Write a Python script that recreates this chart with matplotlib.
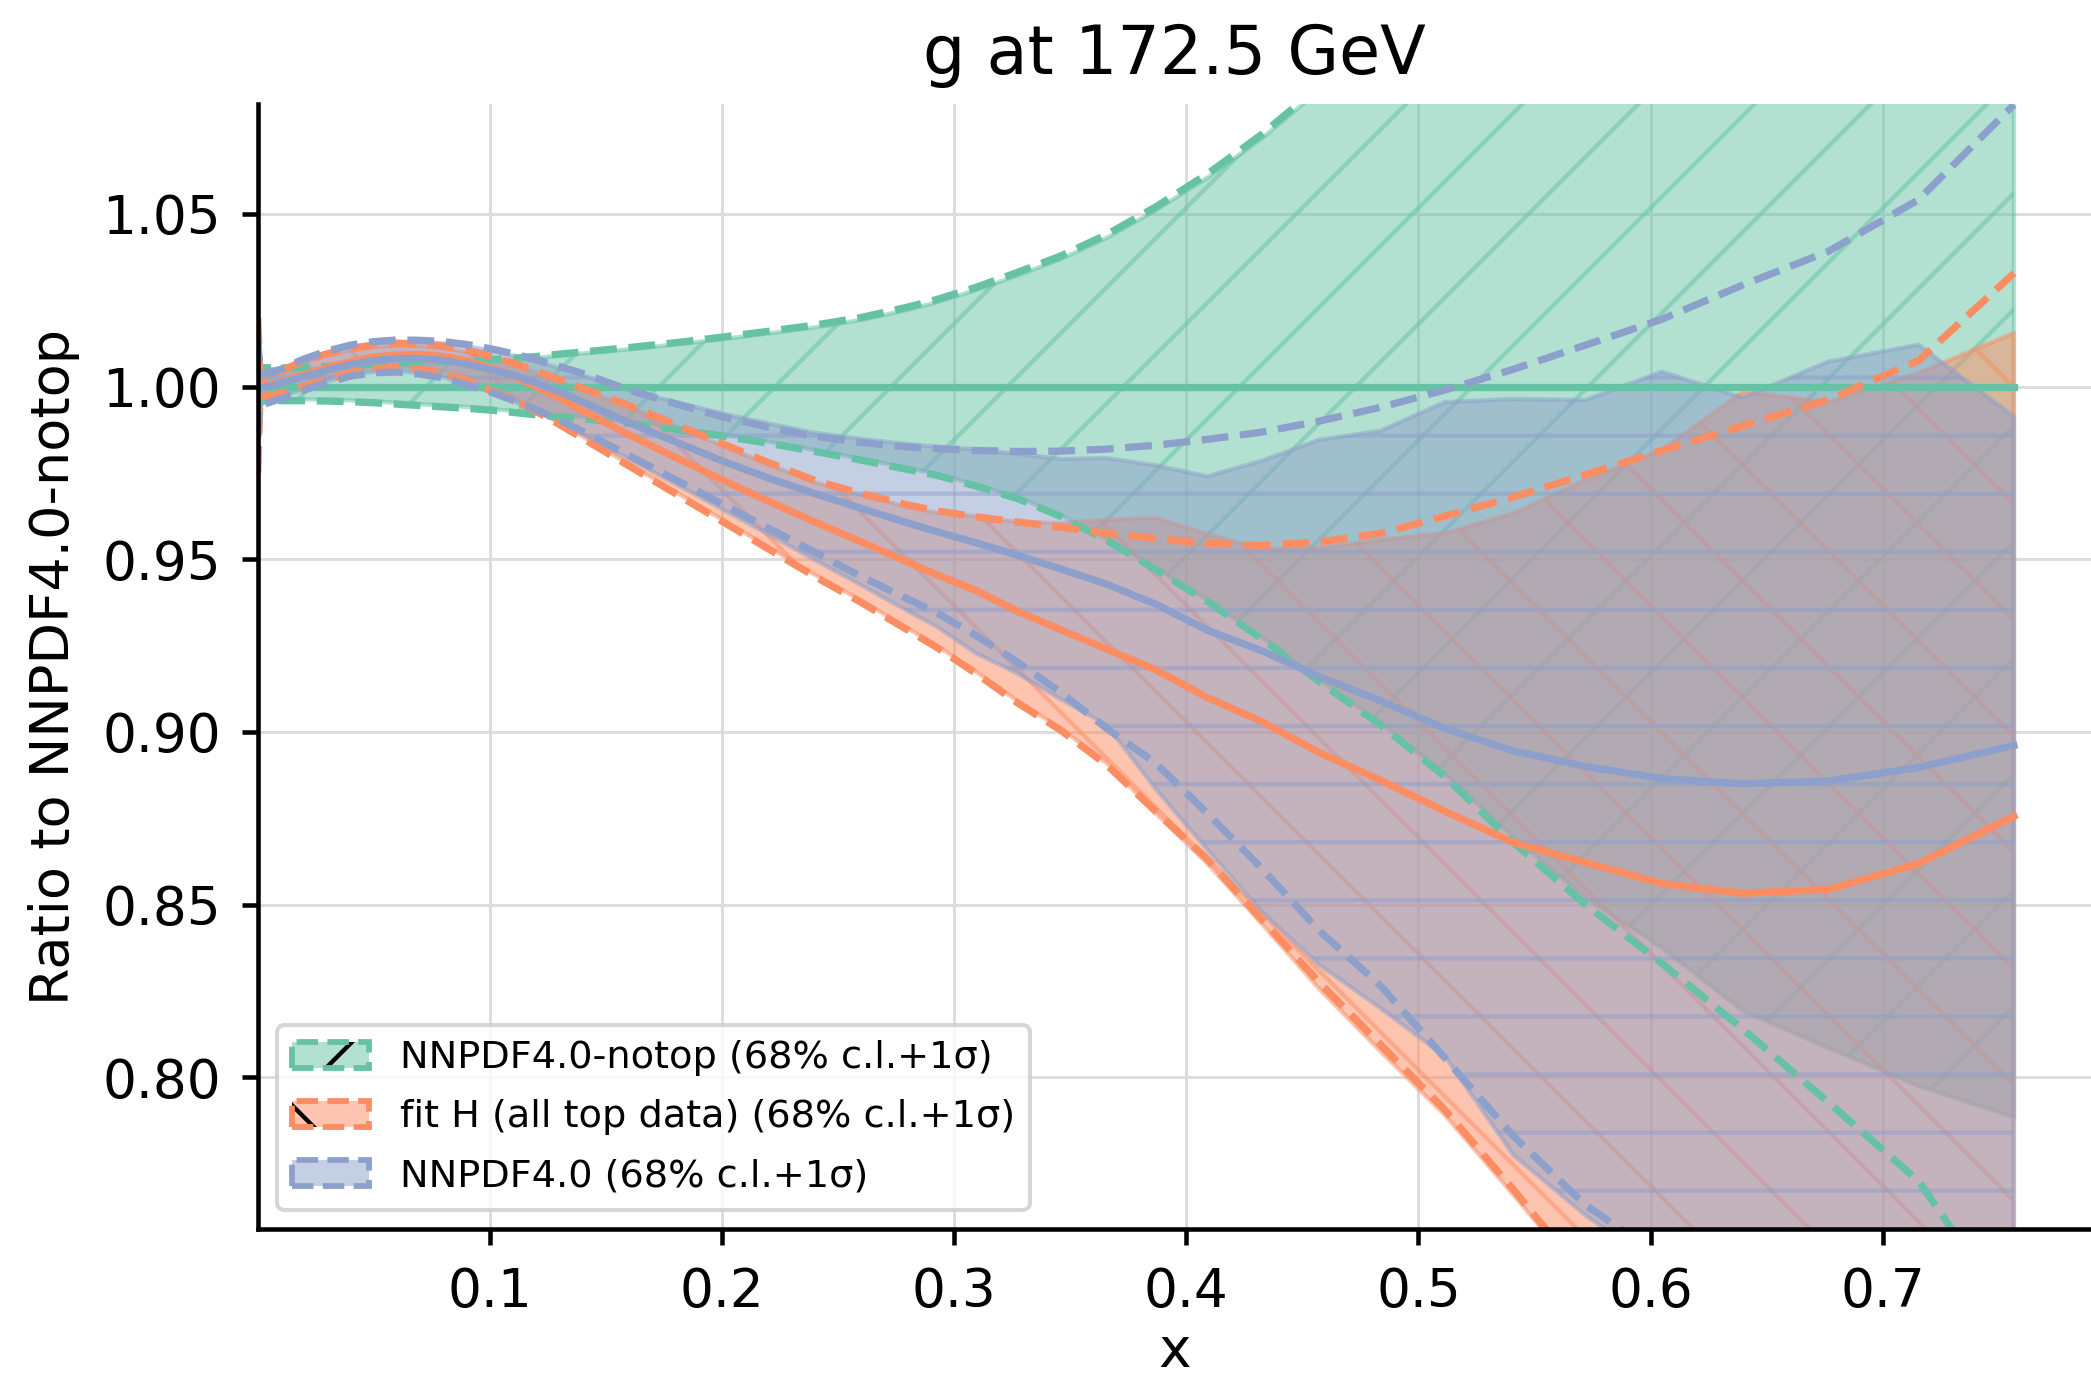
import numpy as np
import matplotlib
matplotlib.use("Agg")
import matplotlib.pyplot as plt
from matplotlib.patches import Patch
from matplotlib.legend_handler import HandlerTuple

DPI = 697
plt.rcParams['font.family'] = ['DejaVu Sans']
plt.rcParams['hatch.linewidth'] = 0.45
plt.rcParams['hatch.color'] = 'black'

# ---------------- data (ratio to NNPDF4.0-notop) ----------------
x = [1e-5, 0.001, 0.01, 0.02, 0.03, 0.04, 0.05, 0.06, 0.07, 0.08, 0.09, 0.10,
     0.11, 0.12, 0.13, 0.14, 0.16, 0.18, 0.20, 0.22, 0.24, 0.26, 0.28, 0.2925,
     0.3093, 0.3271, 0.3459, 0.3657, 0.3868, 0.4090, 0.4325, 0.4574, 0.4837,
     0.5115, 0.5409, 0.5720, 0.6049, 0.6397, 0.6765, 0.7154, 0.7565]

# NNPDF4.0-notop (reference)
notop_cv = [1.0, 1.0, 1.0, 1.0, 1.0, 1.0, 1.0, 1.0, 1.0, 1.0, 1.0, 1.0, 1.0, 1.0,
            1.0, 1.0, 1.0, 1.0, 1.0, 1.0, 1.0, 1.0, 1.0, 1.0, 1.0, 1.0, 1.0, 1.0,
            1.0, 1.0, 1.0, 1.0, 1.0, 1.0, 1.0, 1.0, 1.0, 1.0, 1.0, 1.0, 1.0]
notop_1s_up = [1.010, 1.0055, 1.0054, 1.0056, 1.0058, 1.0062, 1.0065, 1.0068, 1.0070,
               1.0073, 1.0076, 1.0078, 1.0082, 1.0087, 1.0094, 1.0100, 1.0113, 1.0127,
               1.0143, 1.0160, 1.0178, 1.0200, 1.0230, 1.0252, 1.0287, 1.0330, 1.0378,
               1.0440, 1.0520, 1.0615, 1.0730, 1.0870, 1.1030, 1.1200, 1.1400, 1.1600,
               1.1800, 1.2100, 1.2400, 1.2700, 1.3100]
notop_68_up = [1.008, 1.0051, 1.0050, 1.0052, 1.0054, 1.0058, 1.0061, 1.0064, 1.0066,
               1.0069, 1.0072, 1.0074, 1.0078, 1.0083, 1.0090, 1.0096, 1.0108, 1.0122,
               1.0137, 1.0154, 1.0171, 1.0193, 1.0222, 1.0244, 1.0279, 1.0321, 1.0369,
               1.0430, 1.0510, 1.0604, 1.0718, 1.0858, 1.1015, 1.1185, 1.1380, 1.1580,
               1.1780, 1.2080, 1.2380, 1.2680, 1.3080]
notop_1s_dn = [0.990, 0.9958, 0.9959, 0.9959, 0.9958, 0.9956, 0.9953, 0.9949, 0.9945,
               0.9941, 0.9937, 0.9932, 0.9925, 0.9918, 0.9912, 0.9907, 0.9893, 0.9876,
               0.9857, 0.9836, 0.9812, 0.9787, 0.9760, 0.9743, 0.9712, 0.9676, 0.9624,
               0.9555, 0.9470, 0.9378, 0.9270, 0.9145, 0.9020, 0.8870, 0.8680, 0.8500,
               0.8330, 0.8140, 0.7928, 0.7700, 0.7300]
notop_68_dn = [0.992, 0.9962, 0.9963, 0.9963, 0.9962, 0.9960, 0.9957, 0.9953, 0.9949,
               0.9945, 0.9941, 0.9936, 0.9929, 0.9922, 0.9916, 0.9911, 0.9897, 0.9880,
               0.9861, 0.9840, 0.9816, 0.9791, 0.9764, 0.9747, 0.9716, 0.9680, 0.9628,
               0.9559, 0.9474, 0.9382, 0.9274, 0.9150, 0.9026, 0.8878, 0.8695, 0.8520,
               0.8375, 0.8193, 0.8085, 0.7975, 0.7885]

# fit H (all top data)
fitH_cv = [0.999, 1.0000, 1.0012, 1.0035, 1.0055, 1.0072, 1.0085, 1.0092, 1.0093,
           1.0087, 1.0074, 1.0055, 1.0030, 1.0000, 0.9966, 0.9930, 0.9860, 0.9795,
           0.9730, 0.9668, 0.9608, 0.9550, 0.9492, 0.9455, 0.9410, 0.9350, 0.9296,
           0.9240, 0.9180, 0.9100, 0.9030, 0.8940, 0.8860, 0.8770, 0.8680, 0.8622,
           0.8561, 0.8533, 0.8544, 0.8619, 0.8756]
fitH_1s_up = [1.020, 1.0030, 1.0045, 1.0075, 1.0095, 1.0110, 1.0120, 1.0125, 1.0123,
              1.0117, 1.0105, 1.0088, 1.0068, 1.0045, 1.0020, 0.9995, 0.9945, 0.9890,
              0.9835, 0.9780, 0.9728, 0.9690, 0.9657, 0.9640, 0.9623, 0.9608, 0.9593,
              0.9575, 0.9560, 0.9546, 0.9540, 0.9550, 0.9575, 0.9625, 0.9680, 0.9745,
              0.9815, 0.9886, 0.9962, 1.0075, 1.0328]
fitH_68_up = [1.018, 1.0025, 1.0040, 1.0070, 1.0090, 1.0105, 1.0115, 1.0120, 1.0118,
              1.0112, 1.0100, 1.0083, 1.0063, 1.0040, 1.0015, 0.9990, 0.9940, 0.9885,
              0.9830, 0.9775, 0.9723, 0.9685, 0.9652, 0.9635, 0.9625, 0.9608, 0.9605,
              0.9614, 0.9620, 0.9573, 0.9530, 0.9532, 0.9556, 0.9576, 0.9633, 0.9730,
              0.9817, 0.9985, 0.9955, 1.0039, 1.0155]
fitH_1s_dn = [0.975, 0.9970, 0.9980, 1.0000, 1.0020, 1.0040, 1.0052, 1.0055, 1.0050,
              1.0038, 1.0018, 0.9990, 0.9962, 0.9928, 0.9890, 0.9850, 0.9770, 0.9690,
              0.9610, 0.9530, 0.9450, 0.9375, 0.9295, 0.9245, 0.9170, 0.9085, 0.9005,
              0.8905, 0.8770, 0.8632, 0.8457, 0.8274, 0.8095, 0.7905, 0.7675, 0.7420,
              0.7150, 0.6900, 0.6700, 0.6550, 0.6600]
fitH_68_dn = [0.978, 0.9975, 0.9985, 1.0005, 1.0025, 1.0045, 1.0057, 1.0060, 1.0055,
              1.0043, 1.0023, 0.9995, 0.9967, 0.9933, 0.9895, 0.9855, 0.9775, 0.9695,
              0.9615, 0.9535, 0.9455, 0.9380, 0.9300, 0.9250, 0.9175, 0.9090, 0.9010,
              0.8910, 0.8765, 0.8620, 0.8445, 0.8255, 0.8075, 0.7890, 0.7660, 0.7410,
              0.7150, 0.6900, 0.6700, 0.6550, 0.6600]

# NNPDF4.0
nnpdf_cv = [0.999, 0.9995, 1.0010, 1.0029, 1.0047, 1.0064, 1.0075, 1.0081, 1.0081,
            1.0076, 1.0065, 1.0050, 1.0033, 1.0010, 0.9985, 0.9955, 0.9895, 0.9840,
            0.9785, 0.9735, 0.9690, 0.9647, 0.9605, 0.9580, 0.9548, 0.9512, 0.9472,
            0.9428, 0.9370, 0.9295, 0.9235, 0.9160, 0.9090, 0.9010, 0.8945, 0.8900,
            0.8865, 0.8850, 0.8858, 0.8897, 0.8961]
nnpdf_1s_up = [1.015, 1.0035, 1.0050, 1.0080, 1.0103, 1.0120, 1.0130, 1.0135, 1.0134,
               1.0130, 1.0122, 1.0110, 1.0095, 1.0078, 1.0058, 1.0038, 0.9990, 0.9950,
               0.9913, 0.9882, 0.9856, 0.9838, 0.9825, 0.9820, 0.9815, 0.9812, 0.9813,
               0.9819, 0.9830, 0.9847, 0.9868, 0.9900, 0.9940, 0.9990, 1.0050, 1.0120,
               1.0195, 1.0294, 1.0391, 1.0541, 1.0816]
nnpdf_68_up = [1.013, 1.0030, 1.0045, 1.0075, 1.0098, 1.0115, 1.0125, 1.0130, 1.0129,
               1.0125, 1.0117, 1.0105, 1.0090, 1.0073, 1.0053, 1.0033, 0.9990, 0.9955,
               0.9922, 0.9893, 0.9866, 0.9848, 0.9833, 0.9826, 0.9818, 0.9805, 0.9790,
               0.9793, 0.9772, 0.9740, 0.9785, 0.9846, 0.9872, 0.9955, 0.9964, 0.9961,
               1.0043, 0.9968, 1.0072, 1.0121, 0.9913]
nnpdf_1s_dn = [0.985, 0.9945, 0.9965, 0.9990, 1.0012, 1.0030, 1.0040, 1.0042, 1.0036,
               1.0025, 1.0005, 0.9985, 0.9960, 0.9933, 0.9903, 0.9870, 0.9800, 0.9730,
               0.9660, 0.9590, 0.9520, 0.9450, 0.9385, 0.9345, 0.9280, 0.9203, 0.9115,
               0.9010, 0.8910, 0.8765, 0.8605, 0.8424, 0.8265, 0.8055, 0.7830, 0.7630,
               0.7480, 0.7350, 0.7200, 0.7000, 0.6800]
nnpdf_68_dn = [0.987, 0.9950, 0.9970, 0.9993, 1.0015, 1.0033, 1.0043, 1.0045, 1.0039,
               1.0027, 1.0006, 0.9985, 0.9958, 0.9929, 0.9897, 0.9862, 0.9790, 0.9718,
               0.9645, 0.9572, 0.9498, 0.9425, 0.9350, 0.9305, 0.9228, 0.9170, 0.9095,
               0.9020, 0.8835, 0.8660, 0.8480, 0.8325, 0.8200, 0.8060, 0.7775, 0.7600,
               0.7450, 0.7320, 0.7180, 0.6980, 0.6780]

labels = ["NNPDF4.0-notop (68% c.l.+1σ)",
          "fit H (all top data) (68% c.l.+1σ)",
          "NNPDF4.0 (68% c.l.+1σ)"]
xticks = [0.1, 0.2, 0.3, 0.4, 0.5, 0.6, 0.7]
yticks = [0.80, 0.85, 0.90, 0.95, 1.00, 1.05]

colors = ['#66c2a5', '#fc8d62', '#8da0cb']
hatches = ['//', '\\\\', '--']

series = [
    (notop_cv, notop_68_dn, notop_68_up, notop_1s_dn, notop_1s_up),
    (fitH_cv, fitH_68_dn, fitH_68_up, fitH_1s_dn, fitH_1s_up),
    (nnpdf_cv, nnpdf_68_dn, nnpdf_68_up, nnpdf_1s_dn, nnpdf_1s_up),
]

# ---------------- figure ----------------
fig = plt.figure(figsize=(2091 / DPI, 1377 / DPI), dpi=DPI)
ax = fig.add_axes([0.12324, 0.10748, 0.87676, 0.81699])
ax.set_axisbelow(True)
ax.grid(True, color='#dcdcdc', lw=0.3)

LW = 0.75
for (cv, lo68, hi68, lo1, hi1), c, h in zip(series, colors, hatches):
    ax.fill_between(x, lo68, hi68, color=c, alpha=0.5, hatch=h, lw=0.45, zorder=1)
for (cv, lo68, hi68, lo1, hi1), c in zip(series, colors):
    ax.plot(x, cv, color=c, lw=LW, zorder=2)
    ax.plot(x, hi1, color=c, lw=LW, ls='--', zorder=2)
    ax.plot(x, lo1, color=c, lw=LW, ls='--', zorder=2)

ax.set_xlim(1e-5, 0.7897)
ax.set_ylim(0.7561, 1.0818)
ax.set_xticks(xticks)
ax.set_yticks(yticks)
ax.tick_params(length=1.65, width=0.47, pad=2.15, labelsize=5.5)
for s in ['top', 'right']:
    ax.spines[s].set_visible(False)
for s in ['left', 'bottom']:
    ax.spines[s].set_linewidth(0.47)

ax.set_title("g at 172.5 GeV", fontsize=6.9, pad=3.1)
ax.set_xlabel("x", fontsize=5.7, labelpad=0.7)
ax.set_ylabel("Ratio to NNPDF4.0-notop", fontsize=5.6, labelpad=2.3)

handles = []
for c, h in zip(colors, hatches):
    handles.append((Patch(facecolor=c, alpha=0.5, hatch=h),
                    Patch(fill=False, edgecolor=c, linestyle='--', lw=0.6)))
leg = ax.legend(handles, labels, loc='lower left', fontsize=3.96, labelspacing=0.6,
                handler_map={tuple: HandlerTuple(ndivide=1)})
leg.get_frame().set_linewidth(0.42)

fig.savefig("out.png", dpi=DPI)
